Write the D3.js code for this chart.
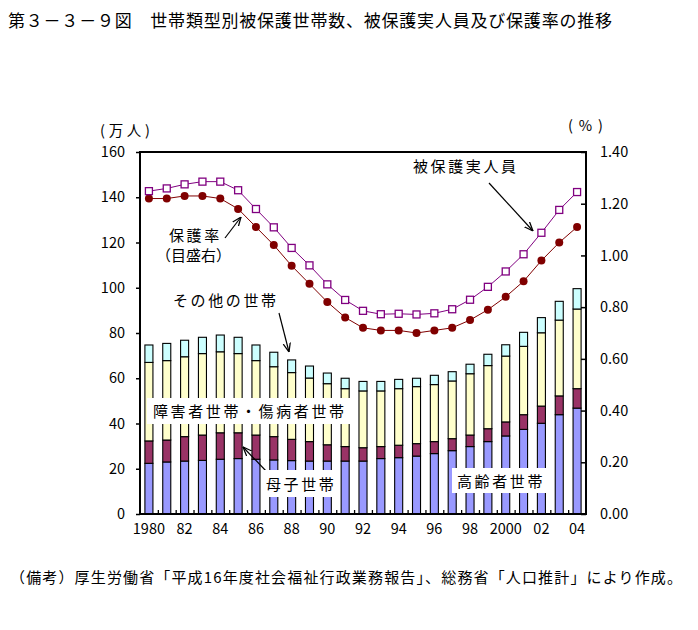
<!DOCTYPE html>
<html><head><meta charset="utf-8">
<script src="https://cdn.jsdelivr.net/npm/d3@7"></script>
<style>
body{margin:0;background:#fff}
text{font-family:"Noto Sans CJK JP","Noto Sans",sans-serif;fill:#000}
</style>
</head><body>
<svg id="c" width="698" height="630"></svg>
<script>
// ---- data ----
const years = d3.range(1980, 2005);
const elderly  = [22.4,23.0,23.4,23.7,24.2,24.5,24.2,23.9,23.6,23.4,23.4,23.4,23.4,24.5,24.9,25.6,26.7,28.0,29.8,32.0,34.5,37.4,40.1,43.9,46.8];
const mother   = [9.9,9.7,10.8,11.2,11.7,11.4,10.7,10.3,9.4,8.6,7.2,6.4,5.9,5.3,5.5,5.5,5.3,5.3,5.1,5.7,6.2,6.5,7.6,8.3,8.6];
const disabled = [34.7,35.1,35.3,36.0,35.8,35.0,32.9,30.9,29.5,28.1,27.0,25.6,25.1,24.6,25.0,25.2,25.2,25.5,27.1,27.9,29.1,30.2,32.4,33.5,35.2];
const other    = [7.7,7.6,7.3,7.2,7.4,7.2,6.9,6.4,5.6,5.3,4.7,4.6,4.2,4.2,4.1,3.7,4.1,4.1,4.2,5.0,5.0,6.2,6.7,8.3,9.0];
const recipients = [142.7,143.9,145.7,146.9,146.9,143.1,134.8,126.7,117.6,109.9,101.5,94.6,89.8,88.3,88.5,88.2,88.7,90.5,94.7,100.4,107.2,114.8,124.3,134.4,142.3];
const rate = [1.22,1.22,1.23,1.23,1.22,1.18,1.11,1.04,0.96,0.89,0.82,0.76,0.72,0.71,0.71,0.70,0.71,0.72,0.75,0.79,0.84,0.90,0.98,1.05,1.11];
const xTickLabels = {1980:"1980",1982:"82",1984:"84",1986:"86",1988:"88",1990:"90",1992:"92",1994:"94",1996:"96",1998:"98",2000:"2000",2002:"02",2004:"04"};
const leftTicks = [0,20,40,60,80,100,120,140,160];
const rightTicks = [0,0.2,0.4,0.6,0.8,1.0,1.2,1.4];
const seriesKeys = ["elderly","mother","disabled","other"];
const seriesColors = {elderly:"#9999FF", mother:"#993366", disabled:"#FFFFCC", other:"#CCFFFF"};

const table = years.map((y,i)=>({year:y, elderly:elderly[i], mother:mother[i], disabled:disabled[i], other:other[i]}));

// ---- layout ----
const L=140, R=586, T=152, B=514;
const svg = d3.select("#c");
svg.append("rect").attr("width",698).attr("height",630).attr("fill","#fff");

const x = d3.scaleBand().domain(years).range([L,R]).paddingInner(0.55).paddingOuter(0.275);
const yL = d3.scaleLinear().domain([0,160]).range([B,T]);
const yR = d3.scaleLinear().domain([0,1.4]).range([B,T]);

// bars
const stack = d3.stack().keys(seriesKeys)(table);
svg.append("g").selectAll("g").data(stack).join("g")
  .attr("fill", d=>seriesColors[d.key])
  .selectAll("rect").data(d=>d).join("rect")
  .attr("x", d=>x(d.data.year))
  .attr("width", x.bandwidth())
  .attr("y", d=>yL(d[1]))
  .attr("height", d=>yL(d[0])-yL(d[1]))
  .attr("stroke","#000").attr("stroke-width",1.1);

// frame
svg.append("rect").attr("x",L).attr("y",T).attr("width",R-L).attr("height",B-T)
  .attr("fill","none").attr("stroke","#000").attr("stroke-width",2);

// left axis
const gl = svg.append("g").attr("transform",`translate(${L},0)`)
  .call(d3.axisLeft(yL).tickValues(leftTicks).tickSize(4).tickPadding(11).tickFormat(d3.format("d")));
gl.select(".domain").remove();
gl.selectAll("text").attr("font-size","14.5px").attr("font-family",'"Noto Sans CJK JP",sans-serif');
gl.selectAll("line").attr("stroke-width",1.5);

// right axis
const gr = svg.append("g").attr("transform",`translate(${R},0)`)
  .call(d3.axisRight(yR).tickValues(rightTicks).tickSize(-5).tickPadding(14).tickFormat(d3.format(".2f")));
gr.select(".domain").remove();
gr.selectAll("text").attr("font-size","14.5px").attr("font-family",'"Noto Sans CJK JP",sans-serif');
gr.selectAll("line").attr("stroke-width",1.5);

// bottom inner ticks between bars
const xb = d3.scaleLinear().domain([0,years.length]).range([L,R]);
const gb = svg.append("g").attr("transform",`translate(0,${B})`)
  .call(d3.axisBottom(xb).tickValues(d3.range(1,years.length)).tickSize(-4).tickFormat(""));
gb.select(".domain").remove();
gb.selectAll("line").attr("stroke-width",1.3);

// bottom labels
const gx = svg.append("g").attr("transform",`translate(0,${B})`)
  .call(d3.axisBottom(x).tickValues(Object.keys(xTickLabels).map(Number)).tickSize(0).tickPadding(10).tickFormat(d=>xTickLabels[d]));
gx.select(".domain").remove();
gx.selectAll("text").attr("font-size","14.5px").attr("font-family",'"Noto Sans CJK JP",sans-serif');

// lines
const cx = d=>x(d)+x.bandwidth()/2;
const lineR = d3.line().x((d,i)=>cx(years[i])).y(d=>yL(d));
const lineP = d3.line().x((d,i)=>cx(years[i])).y(d=>yR(d));
svg.append("path").datum(rate).attr("d",lineP).attr("fill","none").attr("stroke","#800000").attr("stroke-width",1);
svg.append("path").datum(recipients).attr("d",lineR).attr("fill","none").attr("stroke","#800080").attr("stroke-width",1);
svg.append("g").selectAll("circle").data(rate).join("circle")
  .attr("cx",(d,i)=>cx(years[i])).attr("cy",d=>yR(d)).attr("r",4).attr("fill","#800000");
svg.append("g").selectAll("rect").data(recipients).join("rect")
  .attr("x",(d,i)=>cx(years[i])-3.5).attr("y",d=>yL(d)-3.5).attr("width",7).attr("height",7)
  .attr("fill","#fff").attr("stroke","#800080").attr("stroke-width",1.3);

// arrow marker
svg.append("defs").append("marker").attr("id","ah").attr("viewBox","0 0 10 10")
  .attr("refX",10).attr("refY",5).attr("markerWidth",9).attr("markerHeight",9)
  .attr("markerUnits","userSpaceOnUse").attr("orient","auto")
  .append("path").attr("d","M0,1 L10,5 L0,9").attr("fill","none").attr("stroke","#000").attr("stroke-width",1.4);
function arrow(x1,y1,x2,y2){
  svg.append("line").attr("x1",x1).attr("y1",y1).attr("x2",x2).attr("y2",y2)
    .attr("stroke","#000").attr("stroke-width",1.2).attr("marker-end","url(#ah)");
}
arrow(489,183,533,231);
arrow(225,238,241,217);
arrow(279,313,289,352);
arrow(267,472,243,447);

// labels
function box(x,y,w,h){svg.append("rect").attr("x",x).attr("y",y).attr("width",w).attr("height",h).attr("fill","#fff");}
function label(t,x,y,opts={}){
  const el = svg.append("text").attr("x",x).attr("y",y).attr("font-size",opts.fs||"15px")
    .attr("letter-spacing",opts.ls!=null?opts.ls:"2.6px").text(t);
  if(opts.anchor) el.attr("text-anchor",opts.anchor);
  if(opts.len) el.attr("textLength",opts.len).attr("lengthAdjust","spacing");
  return el;
}
box(147,398,210,26);
box(262,470,78,27);
box(452,468,95,25);
label("被保護実人員",413,172);
label("保護率",169,241);
label("（目盛右）",156,261,{ls:"0px"});
label("その他の世帯",173,306);
label("障害者世帯・傷病者世帯",153,417);
label("母子世帯",266,490);
label("高齢者世帯",457,487);

// axis titles
label("(万人)",100,136,{fs:"14.5px",ls:"0px",len:50});
label("(%)",568,131,{fs:"14.5px",ls:"0px",len:35});

// title & footer
label("第３－３－９図　世帯類型別被保護世帯数、被保護実人員及び保護率の推移",8,27,{fs:"17px",ls:"0px",len:604});
label("（備考）厚生労働省「平成16年度社会福祉行政業務報告」、総務省「人口推計」により作成。",10,583,{fs:"15px",ls:"0px",len:672});
</script>
</body></html>
